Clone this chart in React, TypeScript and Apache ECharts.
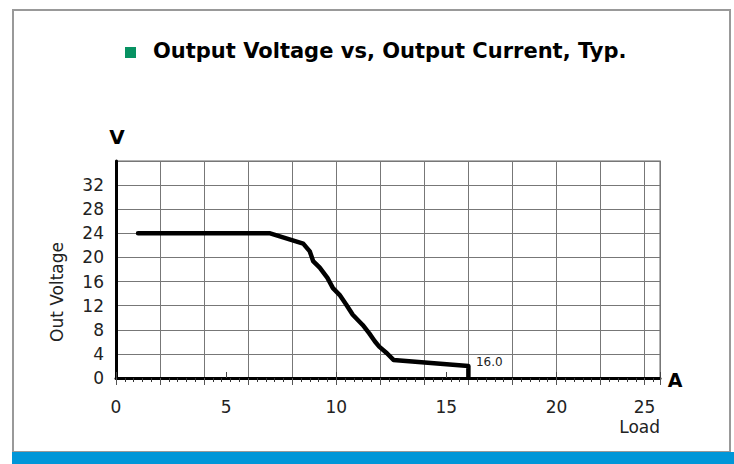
import React, { useEffect, useRef } from "react";
import * as echarts from "echarts";

const currentA = [1, 7, 8.5, 8.8, 8.95, 9.25, 9.6, 9.85, 10.15, 10.45, 10.75, 11.2, 11.5, 11.75, 11.95, 12.3, 12.6, 16, 16];
const voltageV = [24, 24, 22.3, 21, 19.4, 18.3, 16.6, 14.9, 13.8, 12.2, 10.5, 8.8, 7.4, 6.1, 5.2, 4.1, 3.0, 2.0, 0];
const xLabelValues = [0, 5, 10, 15, 20];
const xLastLabel = "25";
const endLabel = "16.0";
const endIndex = 17;
const titleText = "Output Voltage vs, Output Current, Typ.";

const FONT = "DejaVu Sans";

export default function App() {
  const ref = useRef<HTMLDivElement>(null);
  useEffect(() => {
    if (!ref.current) return;
    const chart = echarts.init(ref.current, undefined, { renderer: "svg" });
    const data = currentA.map((x, i) => [x, voltageV[i]]);
    const grid = { left: 116, right: 74, top: 161, bottom: 86, show: true, borderColor: "#999", borderWidth: 1.5 };
    chart.setOption({
      animation: false,
      backgroundColor: "#fff",
      grid,
      xAxis: [
        {
          type: "value",
          position: "bottom",
          min: 0,
          max: 24.7,
          interval: 2,
          axisLine: { show: true, onZero: false, lineStyle: { color: "#000", width: 3 } },
          axisTick: { show: true, length: 7, lineStyle: { color: "#555", width: 1 } },
          minorTick: { show: true, splitNumber: 5, length: 4, lineStyle: { color: "#333", width: 1 } },
          splitLine: { show: true, lineStyle: { color: "#777", width: 1 } },
          axisLabel: { show: false },
        },
        {
          type: "value",
          position: "bottom",
          offset: 0,
          min: 0,
          max: 24.7,
          interval: 1,
          axisLine: { show: false, onZero: false },
          axisTick: { show: false },
          splitLine: { show: false },
          axisLabel: {
            show: true,
            margin: 20,
            fontSize: 17,
            fontFamily: FONT,
            color: "#222",
            showMaxLabel: false,
            formatter: (v: number) => {
              const r = Math.round(v);
              if (xLabelValues.includes(r)) return String(r);
              if (r === 24) return xLastLabel;
              return "";
            },
          },
        },
        {
          type: "value",
          position: "bottom",
          offset: 0,
          min: 0,
          max: 24.7,
          interval: 5,
          axisLine: { show: false, onZero: false },
          axisTick: { show: true, inside: true, length: 6, lineStyle: { color: "#444", width: 1 } },
          splitLine: { show: false },
          axisLabel: { show: false },
        },
      ],
      yAxis: {
        type: "value",
        min: 0,
        max: 36,
        interval: 4,
        axisLine: { show: true, lineStyle: { color: "#000", width: 3 } },
        axisTick: { show: false },
        splitLine: { show: true, lineStyle: { color: "#777", width: 1 } },
        axisLabel: {
          margin: 12,
          fontSize: 17,
          fontFamily: FONT,
          color: "#222",
          showMaxLabel: false,
          formatter: (v: number) => (v >= 36 ? "" : String(v)),
        },
      },
      series: [
        {
          type: "line",
          xAxisIndex: 0,
          data,
          showSymbol: false,
          symbol: "none",
          lineStyle: { color: "#000", width: 4.5, join: "round", cap: "round" },
          markPoint: {
            symbol: "circle",
            symbolSize: 1,
            itemStyle: { color: "rgba(0,0,0,0)" },
            data: [
              {
                coord: [currentA[endIndex], voltageV[endIndex]],
                label: {
                  show: true,
                  formatter: endLabel,
                  position: "right",
                  distance: 7,
                  offset: [0, -4],
                  fontSize: 12,
                  fontFamily: FONT,
                  color: "#222",
                },
              },
            ],
          },
        },
      ],
      graphic: [
        {
          type: "rect",
          shape: { x: 13, y: 10, width: 717, height: 442 },
          style: { fill: "none", stroke: "#999", lineWidth: 2 },
          z: 0,
          silent: true,
        },
        {
          type: "rect",
          shape: { x: 12, y: 452, width: 722, height: 12 },
          style: { fill: "#0096d8" },
          silent: true,
        },
        {
          type: "rect",
          shape: { x: 125, y: 47, width: 11, height: 11 },
          style: { fill: "#079262" },
          silent: true,
        },
        {
          type: "text",
          x: 153,
          y: 51,
          style: {
            text: titleText,
            fontFamily: FONT,
            fontWeight: "bold",
            fontSize: 21,
            fill: "#000",
            verticalAlign: "middle",
            align: "left",
          },
        },
        {
          type: "text",
          x: 117,
          y: 137,
          style: { text: "V", fontFamily: FONT, fontWeight: "bold", fontSize: 20, fill: "#000", align: "center", verticalAlign: "middle" },
        },
        {
          type: "text",
          x: 675,
          y: 380,
          style: { text: "A", fontFamily: FONT, fontWeight: "bold", fontSize: 19, fill: "#000", align: "center", verticalAlign: "middle" },
        },
        {
          type: "text",
          x: 660,
          y: 427,
          style: { text: "Load", fontFamily: FONT, fontSize: 17, fill: "#222", align: "right", verticalAlign: "middle" },
        },
        {
          type: "text",
          x: 57,
          y: 292,
          rotation: Math.PI / 2,
          style: { text: "Out Voltage", fontFamily: FONT, fontSize: 17, fill: "#222", align: "center", verticalAlign: "middle" },
        },
      ],
    });
    return () => chart.dispose();
  }, []);
  return (
    <div
      ref={ref}
      style={{ position: "fixed", left: 0, top: 0, width: 734, height: 464, background: "#fff" }}
    />
  );
}
